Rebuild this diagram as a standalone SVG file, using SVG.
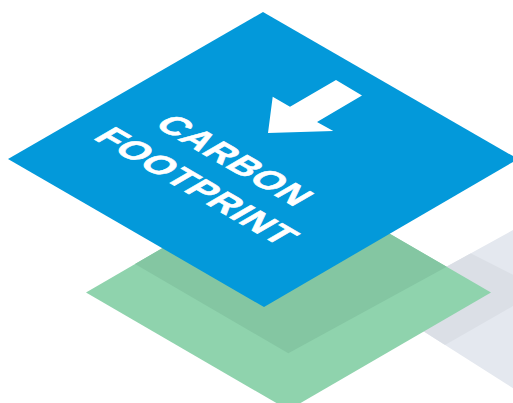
<svg xmlns="http://www.w3.org/2000/svg" width="513" height="403" viewBox="0 0 513 403">
  <defs>
    <style>
      .grey { fill: #E4E8EF; }
      .greyband { fill: #DBDFE6; }
      .green { fill: #8FD3AD; }
      .greendark { fill: #84C6A2; }
      .blue { fill: #0399DA; }
      .white { fill: #FFFFFF; }
      .label { font-family: "Liberation Sans", Arial, sans-serif; font-weight: bold; font-size: 36px; fill: #FFFFFF; stroke: #FFFFFF; stroke-width: 0.7px; text-anchor: middle; letter-spacing: 1px; }
    </style>
    <clipPath id="greyClip">
      <polygon points="379.8,303.6 560,204 560,418"/>
    </clipPath>
  </defs>
  <rect width="513" height="403" fill="#FFFFFF"/>
  <g id="grey-layer">
    <polygon class="grey" points="379.8,303.6 560,204 560,418"/>
    <polygon class="greyband" clip-path="url(#greyClip)" points="541.9,289.6 300,166.2 200,300 300,427.9"/>
  </g>
  <g id="green-layer">
    <polygon class="green" points="288.5,175 491,292.5 288.5,410 86,292.5"/>
    <polygon class="greendark" points="288.5,175 446.7,266.8 288.3,353.3 135,264"/>
  </g>
  <g id="blue-layer">
    <polygon class="blue" points="263,12 518,159 264,307 8,159"/>
    <polygon class="white" points="268,133 272.7,96.7 290,106.7 336,80 362,95.5 317,122 333.3,131"/>
    <g transform="matrix(0.866,0.5,-0.866,0.5,0,0)">
      <text class="label" x="296" y="37">CARBON</text>
      <text class="label" x="300" y="85">FOOTPRINT</text>
    </g>
  </g>
</svg>
